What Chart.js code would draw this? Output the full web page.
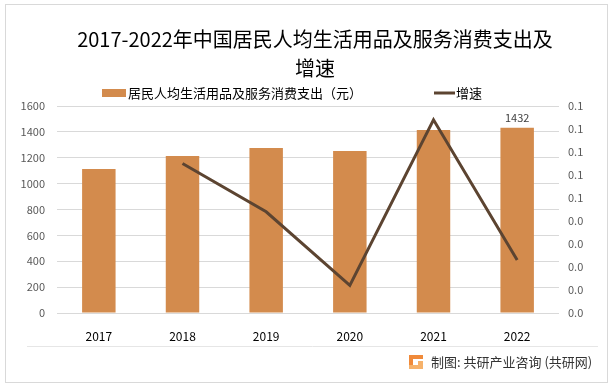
<!DOCTYPE html>
<html>
<head>
<meta charset="utf-8">
<script src="https://cdn.jsdelivr.net/npm/chart.js@4/dist/chart.umd.min.js"></script>
<style>
html,body{margin:0;padding:0;background:#fff;}
#wrap{position:relative;width:614px;height:387px;}
canvas{display:block;}
</style>
</head>
<body>
<div id="wrap"><canvas id="c" width="614" height="387"></canvas></div>
<script>
const categories = ['2017','2018','2019','2020','2021','2022'];
const spending = [1113, 1213, 1275, 1252, 1415, 1432];
const growth = [null, 0.065, 0.044, 0.012, 0.084, 0.023];
const titleLines = ['2017-2022年中国居民人均生活用品及服务消费支出及', '增速'];
const seriesNames = ['居民人均生活用品及服务消费支出（元）', '增速'];
const sourceText = '制图: 共研产业咨询 (共研网)';

const BAR = '#D38B4D';
const LINE = '#5C4431';
const FONT = '"Microsoft YaHei","Noto Sans CJK SC","Noto Sans",sans-serif';

const decor = {
  id: 'decor',
  beforeDraw(chart) {
    const ctx = chart.ctx;
    ctx.save();
    ctx.fillStyle = '#fff';
    ctx.fillRect(0, 0, chart.width, chart.height);
    ctx.strokeStyle = '#d9d9d9';
    ctx.lineWidth = 1;
    ctx.strokeRect(5.5, 4.5, 602, 378);
    ctx.strokeStyle = '#e6e6e6';
    ctx.beginPath(); ctx.moveTo(27, 346.5); ctx.lineTo(598, 346.5); ctx.stroke();
    // title
    ctx.fillStyle = '#000';
    ctx.font = '20px ' + FONT;
    ctx.textAlign = 'center';
    ctx.textBaseline = 'middle';
    ctx.fillText(titleLines[0], 315, 39);
    ctx.fillText(titleLines[1], 315, 68);
    // legend
    ctx.font = '13px ' + FONT;
    ctx.textAlign = 'left';
    ctx.fillStyle = BAR;
    ctx.fillRect(102, 89, 24, 8);
    ctx.fillStyle = '#000';
    ctx.fillText(seriesNames[0], 128, 93);
    ctx.strokeStyle = LINE; ctx.lineWidth = 3;
    ctx.beginPath(); ctx.moveTo(434, 93); ctx.lineTo(455, 93); ctx.stroke();
    ctx.fillText(seriesNames[1], 456, 93);
    // footer
    ctx.fillStyle = '#F08A3A';
    ctx.fillRect(409, 355, 14, 4);
    ctx.fillRect(409, 355, 4, 14);
    ctx.fillStyle = '#F6B26B';
    ctx.fillRect(409, 365, 14, 4);
    ctx.fillRect(418, 361, 5, 8);
    ctx.fillStyle = '#333';
    ctx.font = '13px ' + FONT;
    ctx.fillText(sourceText, 431, 362);
    ctx.restore();
  },
  afterDatasetsDraw(chart) {
    const ctx = chart.ctx;
    const meta = chart.getDatasetMeta(1);
    const last = meta.data[meta.data.length - 1];
    ctx.save();
    ctx.fillStyle = '#404040';
    ctx.font = '11px ' + FONT;
    ctx.textAlign = 'center';
    ctx.textBaseline = 'bottom';
    ctx.fillText(String(spending[spending.length - 1]), last.x, last.y - 4);
    ctx.restore();
  }
};

new Chart(document.getElementById('c'), {
  data: {
    labels: categories,
    datasets: [
      {
        type: 'line', label: seriesNames[1], data: growth, yAxisID: 'y1',
        borderColor: LINE, borderWidth: 3, pointRadius: 0, tension: 0, order: 0,
        spanGaps: false
      },
      {
        type: 'bar', label: seriesNames[0], data: spending, yAxisID: 'y',
        backgroundColor: BAR, barPercentage: 0.4, categoryPercentage: 1, order: 1
      }
    ]
  },
  options: {
    responsive: false,
    animation: false,
    layout: { padding: { top: 106, left: 0, right: 0, bottom: 0 } },
    plugins: { legend: { display: false }, title: { display: false }, tooltip: { enabled: false } },
    scales: {
      x: {
        grid: { display: false },
        border: { display: false },
        ticks: { color: '#000', font: { size: 12, family: FONT }, padding: 8 },
        afterFit(s) { s.height = 74; }
      },
      y: {
        position: 'left', min: 0, max: 1600,
        ticks: { stepSize: 200, color: '#595959', font: { size: 11, family: FONT }, padding: 12,
          callback: (v) => String(v) },
        grid: { color: '#d9d9d9', drawTicks: false },
        border: { display: false },
        afterFit(s) { s.width = 57; }
      },
      y1: {
        position: 'right', min: 0, max: 0.09,
        ticks: {
          stepSize: 0.01, color: '#595959', font: { size: 11, family: FONT }, padding: 9,
          callback: (v) => (Math.round(v * 100) / 100).toFixed(1)
        },
        grid: { display: false, drawTicks: false },
        border: { display: false },
        afterFit(s) { s.width = 55; }
      }
    }
  },
  plugins: [decor]
});
</script>
</body>
</html>
